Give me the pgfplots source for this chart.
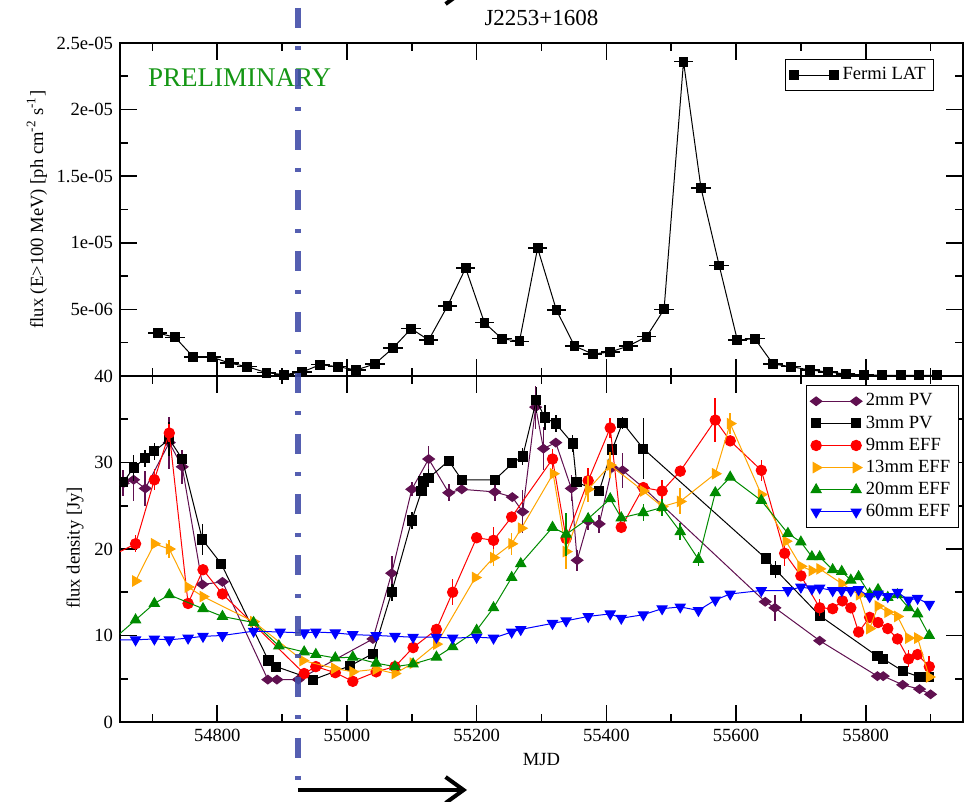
\documentclass[border=0pt]{standalone}
\usepackage{fontspec}
\setmainfont{Liberation Serif}
\usepackage{pgfplots}
\pgfplotsset{compat=1.18}
\usetikzlibrary{arrows.meta}

\definecolor{cpv}{RGB}{96,16,80}
\definecolor{cnine}{RGB}{255,0,0}
\definecolor{cthirteen}{RGB}{255,165,0}
\definecolor{ctwenty}{RGB}{0,139,0}
\definecolor{csixty}{RGB}{0,0,255}
\definecolor{dashblue}{RGB}{66,78,168}
\definecolor{prelim}{RGB}{20,150,20}

\pgfplotsset{
  grace/.style={
    scale only axis, width=421.5pt,
    xmin=54650, xmax=55950,
    xtick={54800,55000,55200,55400,55600,55800},
    minor xtick={54700,54900,55100,55300,55500,55700,55900},
    tick align=inside, major tick length=8.5pt, minor tick length=4pt,
    axis line style={line width=1pt},
    tick style={black, line width=0.8pt},
    scaled x ticks=false, scaled y ticks=false,
    /pgf/number format/assume math mode=true,
    /pgf/number format/1000 sep={},
    tick label style={font=\fontsize{9.3}{11}\selectfont},
    label style={font=\fontsize{9.3}{11}\selectfont},
    legend cell align=left,
    legend style={draw=black, line width=0.6pt, font=\fontsize{9.3}{11}\selectfont,
      inner sep=2pt, row sep=-0.6pt},
    legend image code/.code={\draw[mark repeat=2,mark phase=1,##1]
      plot coordinates {(0pt,0pt) (10pt,0pt) (20pt,0pt)};},
  },
  ser/.style={line width=0.5pt, mark options={solid},
    error bars/y dir=both, error bars/y explicit, error bars/error mark=none,
    error bars/error bar style={line width=0.8pt}},
}

\begin{document}
\begin{tikzpicture}

% gamma-ray panel
\begin{axis}[grace, at={(0,173pt)}, height=166.5pt,
  ymin=0, ymax=2.5e-5, clip=false,
  ytick={0,5e-6,1e-5,1.5e-5,2e-5,2.5e-5},
  minor ytick={2.5e-6,7.5e-6,1.25e-5,1.75e-5,2.25e-5},
  yticklabels={,5e-06,1e-05,1.5e-05,2e-05,2.5e-05},
  xticklabels={},
  ylabel={flux (E>100 MeV) [ph cm\textsuperscript{-2} s\textsuperscript{-1}]},
  ylabel style={at={(axis description cs:-0.0985,0.5)}, anchor=center},
  legend style={at={(rel axis cs:0.966,0.952)}, anchor=north east},
]
\addplot[black, line width=0.5pt, mark=square*, mark size=2.2pt, mark options={solid},
  error bars/x dir=both, error bars/x fixed=15, error bars/error mark=none,
  error bars/error bar style={line width=0.7pt}] coordinates {
  (54708,3.23e-6) (54735,2.9e-6) (54763,1.43e-6) (54791,1.43e-6) (54819,0.97e-6)
  (54846,0.7e-6) (54876,0.25e-6) (54903,0.1e-6) (54931,0.3e-6) (54959,0.85e-6)
  (54986,0.7e-6) (55014,0.45e-6) (55043,0.9e-6) (55071,2.1e-6) (55099,3.55e-6)
  (55126,2.7e-6) (55155,5.25e-6) (55183,8.1e-6) (55212,4.0e-6) (55239,2.8e-6)
  (55266,2.6e-6) (55294,9.6e-6) (55323,4.95e-6) (55351,2.25e-6) (55379,1.65e-6)
  (55406,1.8e-6) (55434,2.25e-6) (55462,2.95e-6) (55489,5.0e-6) (55519,23.6e-6)
  (55546,14.1e-6) (55574,8.3e-6) (55602,2.7e-6) (55629,2.8e-6) (55657,0.9e-6)
  (55685,0.7e-6) (55714,0.45e-6) (55742,0.3e-6) (55769,0.15e-6) (55797,0.08e-6)
  (55825,0.05e-6) (55854,0.05e-6) (55882,0.05e-6) (55910,0.05e-6)
};
\legend{Fermi LAT}
\node[anchor=west, inner sep=0pt, text=prelim, font=\fontsize{13.5}{16}\selectfont]
  at (rel axis cs:0.033,0.895) {PRELIMINARY};
\node[anchor=center, inner sep=0pt, font=\fontsize{11.5}{13}\selectfont, yshift=12.5pt]
  at (rel axis cs:0.5,1) {J2253+1608};
\end{axis}

% radio panel
\begin{axis}[grace, at={(0,0)}, height=173pt,
  ymin=0, ymax=40, clip marker paths=true,
  ytick={0,10,20,30,40}, minor ytick={5,15,25,35},
  xlabel={MJD},
  xlabel style={at={(axis description cs:0.5,-0.107)}, anchor=center},
  ylabel={flux density [Jy]},
  ylabel style={at={(axis description cs:-0.0534,0.503)}, anchor=center},
  legend style={at={(rel axis cs:0.995,0.974)}, anchor=north east},
]
\addplot[cpv, mark=diamond*, mark size=2.9pt, ser, mark options={rotate=90}] coordinates {
  (54655,27.6) +- (0,1.5) (54671,28.0) +- (0,2.5) (54689,27.0) +- (0,2)
  (54726,32.3) +- (0,3) (54746,29.5) +- (0,2) (54777,15.9) (54808,16.2)
  (54878,4.9) (54892,4.9) (54925,4.9) (55040,9.6) (55069,17.2) +- (0,2)
  (55100,26.9) +- (0,0.8) (55126,30.4) +- (0,1.5) (55157,26.5) +- (0,1)
  (55177,26.9) (55228,26.6) +- (0,1) (55255,26.0) (55271,24.3) +- (0,2.5)
  (55291,36.4) +- (0,2.5) (55303,31.6) +- (0,2.5) (55322,32.3)
  (55346,27.0) +- (0,1.5) (55355,18.7) +- (0,1.2) (55372,23.2) +- (0,1)
  (55389,22.9) +- (0,1) (55409,29.4) (55425,29.1) +- (0,2) (55457,27.1)
  (55645,13.9) (55660,13.2) +- (0,1.5) (55729,9.4) (55818,5.3) (55827,5.3)
  (55857,4.3) (55883,3.8) (55900,3.2)
};
\addplot[black, mark=square*, mark size=2.3pt, ser] coordinates {
  (54655,27.7) (54671,29.4) +- (0,1.5) (54689,30.5) +- (0,1) (54703,31.3) +- (0,1)
  (54726,32.7) +- (0,2) (54746,30.4) (54777,21.1) +- (0,1.8) (54806,18.3)
  (54879,7.1) (54891,6.4) (54948,4.9) (55005,6.5) (55040,7.9)
  (55069,15.0) +- (0,1) (55100,23.3) +- (0,1) (55115,26.7) (55118,27.8) +- (0,1)
  (55126,28.2) +- (0,1) (55157,30.2) (55177,28.0) (55228,28.0) (55255,29.9)
  (55271,30.7) +- (0,1) (55292,37.2) +- (0,1.5) (55305,35.2) +- (0,1.5)
  (55322,34.5) +- (0,1) (55348,32.2) +- (0,1) (55354,27.7) (55389,26.7)
  (55409,31.5) (55425,34.6) +- (0,0.7) (55457,31.6) +- (0,3.5) (55646,18.9)
  (55661,17.6) +- (0,1) (55729,12.3) (55818,7.6) (55827,7.3) (55857,5.9)
  (55883,5.2) (55897,5.2)
};
\addplot[cnine, mark=*, mark size=2.6pt, ser] coordinates {
  (54645,19.5) (54674,20.6) +- (0,1) (54703,28.0) +- (0,1.2) (54726,33.4) +- (0,1)
  (54755,13.7) (54778,17.6) (54808,14.8) (54934,5.6) (54952,6.4) (54982,5.7)
  (55009,4.7) (55045,5.8) (55074,6.4) (55102,8.6) (55138,10.7)
  (55163,15.0) +- (0,1.5) (55200,21.3) (55226,21.0) +- (0,1.5) (55254,23.7)
  (55317,30.4) +- (0,1.2) (55338,21.2) +- (0,1.5) (55372,27.9) +- (0,1.5)
  (55406,34.0) +- (0,1.2) (55423,22.5) (55457,27.1) (55486,26.7) +- (0,1.3)
  (55514,29.0) (55568,34.9) +- (0,2.5) (55591,32.5) (55639,29.1) +- (0,1.2)
  (55675,19.5) +- (0,1.5) (55700,16.9) (55729,13.2) +- (0,1) (55749,13.1)
  (55764,14.0) (55777,13.2) (55789,10.4) (55806,12.1) (55819,11.5) (55834,10.8)
  (55849,9.6) (55866,7.3) +- (0,1) (55880,7.8) (55898,6.4) +- (0,1.2)
};
\addplot[cthirteen, mark=triangle*, mark size=2.9pt, ser, mark options={rotate=-90}] coordinates {
  (54674,16.3) (54703,20.6) (54726,20.0) +- (0,1) (54755,15.6) (54778,14.5)
  (54856,11.6) (54932,7.1) (54981,6.2) (55009,5.8) (55045,6.1) (55074,5.6)
  (55102,6.8) (55138,9.0) (55198,16.7) (55226,19.0) +- (0,1) (55254,20.6) +- (0,1.3)
  (55269,22.4) (55318,28.7) (55338,19.7) +- (0,2) (55372,26.9) +- (0,1.5)
  (55406,29.7) +- (0,1.5) (55457,26.7) (55486,24.9) (55514,25.5) +- (0,1.5)
  (55568,28.7) (55591,34.5) +- (0,1.2) (55639,26.3) (55677,20.9) (55700,18.0)
  (55717,17.5) (55729,17.7) (55763,16.0) (55790,14.7) (55806,10.8) (55819,13.4)
  (55834,12.7) (55849,12.2) (55866,9.7) (55880,9.7) (55898,5.2)
};
\addplot[ctwenty, mark=triangle*, mark size=2.9pt, ser] coordinates {
  (54645,9.9) (54674,11.8) (54703,13.7) (54726,14.7) (54778,13.1) (54808,12.2)
  (54856,11.5) (54895,8.8) (54934,8.1) (54952,7.8) (54982,7.4) (55009,7.5)
  (55045,6.8) (55074,6.4) (55102,6.7) (55138,7.5) (55163,8.7) (55200,10.6)
  (55226,13.2) (55254,16.7) (55268,18.3) (55317,22.5) (55338,21.7) +- (0,2.5)
  (55372,23.5) (55406,25.8) (55423,23.6) (55457,24.2) +- (0,1) (55486,24.8) +- (0,1)
  (55514,22.0) +- (0,1) (55542,18.8) +- (0,0.8) (55568,26.5) (55591,28.3)
  (55639,25.6) (55680,21.8) (55700,20.8) (55717,19.1) (55729,19.1) (55749,17.6)
  (55763,17.4) (55777,16.4) (55789,16.8) (55806,14.8) (55819,15.3) (55834,14.4)
  (55849,14.7) (55866,13.2) (55880,12.5) (55898,10.0)
};
\addplot[csixty, mark=triangle*, mark size=2.9pt, ser, mark options={rotate=180}] coordinates {
  (54645,9.5) (54674,9.5) (54703,9.6) (54726,9.5) (54755,9.7) (54778,9.9)
  (54808,10.0) (54856,10.5) (54897,10.4) (54934,10.3) (54952,10.4) (54982,10.3)
  (55009,10.1) (55045,10.0) (55074,9.9) (55102,9.8) (55138,9.8) (55163,9.7)
  (55200,9.8) (55226,9.7) (55254,10.4) (55268,10.7) (55317,11.4) (55338,11.7)
  (55372,12.2) (55406,12.5) (55423,12.0) (55457,12.4) (55486,13.1) (55514,13.3)
  (55542,12.9) (55568,14.1) (55591,14.8) (55639,15.2) (55680,15.2) (55700,15.6)
  (55717,15.4) (55729,15.5) (55749,15.2) (55763,15.2) (55777,15.2) (55789,15.3)
  (55806,14.5) (55819,14.8) (55834,14.5) (55849,15.0) (55866,14.1) (55880,14.3)
  (55898,13.6)
};
\legend{2mm PV, 3mm PV, 9mm EFF, 13mm EFF, 20mm EFF, 60mm EFF}
\end{axis}

% marker line and arrows
\draw[line width=2.8pt, dashblue, opacity=0.9,
  dash pattern=on 10pt off 9.2pt on 2pt off 9.2pt] (89pt,357pt) -- (89pt,-29.5pt);
\draw[line width=2pt, -{Straight Barb[length=9pt,width=13pt]}] (89pt,-34pt) -- (173.5pt,-34pt);
\draw[line width=2pt, -{Straight Barb[length=9pt,width=13pt]}] (89pt,365.5pt) -- (173.5pt,365.5pt);

\pgfresetboundingbox
\useasboundingbox (-60pt,-40pt) rectangle (423pt,361pt);
\end{tikzpicture}
\end{document}
